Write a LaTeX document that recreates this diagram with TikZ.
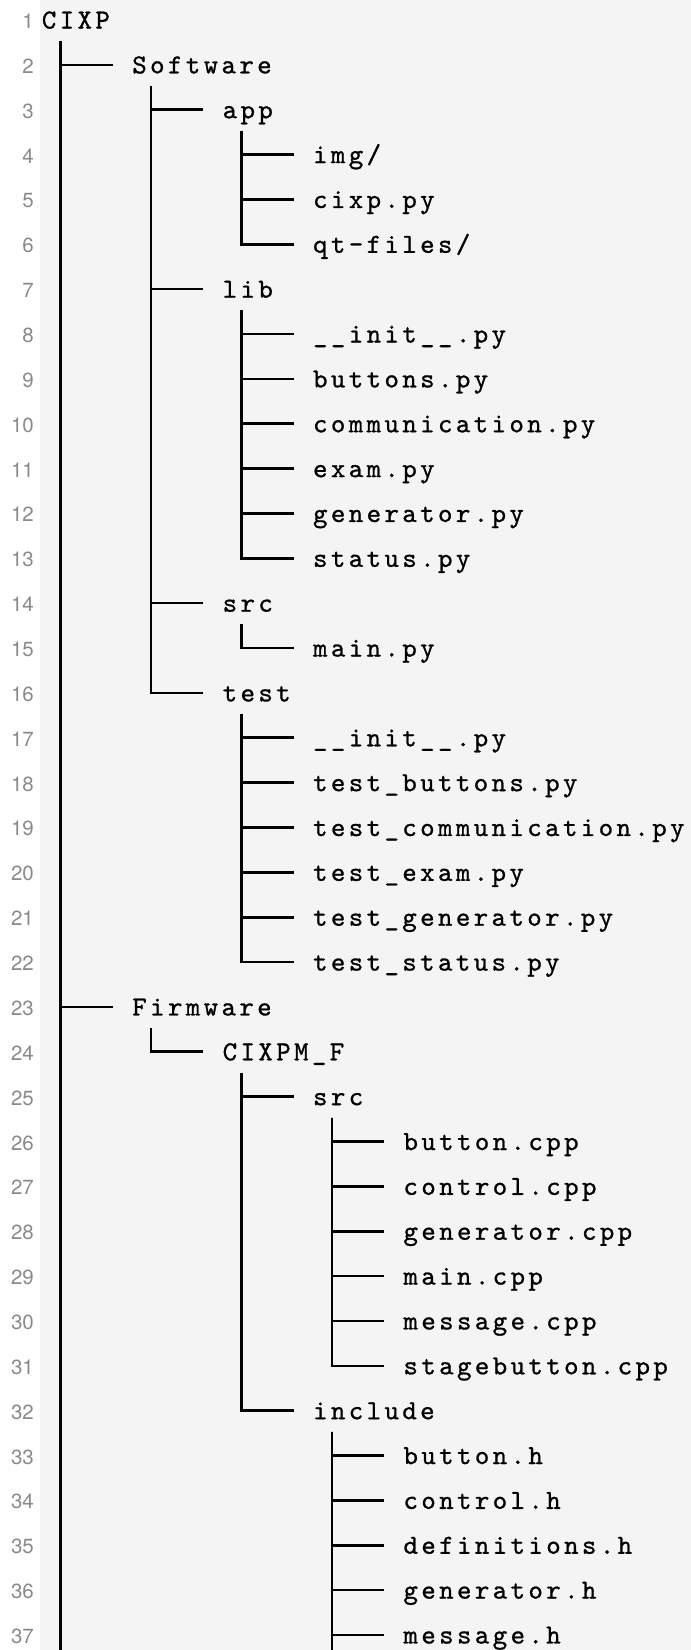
\documentclass[tikz,border=0pt]{standalone}
\usepackage{fontspec}
\newfontfamily\numfont{TeX Gyre Heros}
\newfontfamily\treefont{lmmono10-regular.otf}[FakeBold=0.9]
\definecolor{bggray}{HTML}{F4F4F4}
\definecolor{numgray}{HTML}{8A8A8A}
\makeatletter
\newcommand\mono[1]{\mono@i#1\relax}
\def\mono@i#1{\ifx\relax#1\else\makebox[17.85pt][c]{#1}\expandafter\mono@i\fi}
\makeatother
\newcommand\entry[4]{\node[txt] (#3) at ({40+90.4*#2},{20+(#1-1)*44.86}) {\mono{#4}};}
\newcommand\branch[2]{\draw[tree] ([xshift=20.7pt,yshift=-21pt]#1.west) |- ([xshift=-17.5pt]#2.west);}
\begin{document}
\begin{tikzpicture}[x=1pt,y=-1pt,
  tree/.style={line width=2.6pt,black},
  txt/.style={inner sep=0pt,text height=21pt,text depth=4pt,anchor=west,
    font=\treefont\fontsize{27.5pt}{30pt}\selectfont},
  num/.style={inner sep=0pt,text height=21pt,text depth=4pt,anchor=east,
    text=numgray,font=\numfont\fontsize{20.5pt}{24pt}\selectfont}]
\useasboundingbox (0,0) rectangle (691,1650);
\fill[bggray] (40,0) rectangle (691,1650);
\coordinate (bot) at (0,1650);
\foreach \k in {1,...,37} \node[num] (n\k) at (34,{20+(\k-1)*44.86}) {\k};
\entry{1}{0}{root}{CIXP}
\entry{2}{1}{sw}{Software}
\entry{3}{2}{app}{app}
\entry{4}{3}{img}{img/}
\entry{5}{3}{cixp}{cixp.py}
\entry{6}{3}{qt}{qt-files/}
\entry{7}{2}{lib}{lib}
\entry{8}{3}{libinit}{\_\_init\_\_.py}
\entry{9}{3}{libbtn}{buttons.py}
\entry{10}{3}{libcom}{communication.py}
\entry{11}{3}{libexam}{exam.py}
\entry{12}{3}{libgen}{generator.py}
\entry{13}{3}{libstat}{status.py}
\entry{14}{2}{swsrc}{src}
\entry{15}{3}{mainpy}{main.py}
\entry{16}{2}{test}{test}
\entry{17}{3}{tinit}{\_\_init\_\_.py}
\entry{18}{3}{tbtn}{test\_buttons.py}
\entry{19}{3}{tcom}{test\_communication.py}
\entry{20}{3}{texam}{test\_exam.py}
\entry{21}{3}{tgen}{test\_generator.py}
\entry{22}{3}{tstat}{test\_status.py}
\entry{23}{1}{fw}{Firmware}
\entry{24}{2}{cixpm}{CIXPM\_F}
\entry{25}{3}{fwsrc}{src}
\entry{26}{4}{bcpp}{button.cpp}
\entry{27}{4}{ccpp}{control.cpp}
\entry{28}{4}{gcpp}{generator.cpp}
\entry{29}{4}{mcpp}{main.cpp}
\entry{30}{4}{msgcpp}{message.cpp}
\entry{31}{4}{sbcpp}{stagebutton.cpp}
\entry{32}{3}{inc}{include}
\entry{33}{4}{bh}{button.h}
\entry{34}{4}{ch}{control.h}
\entry{35}{4}{dh}{definitions.h}
\entry{36}{4}{gh}{generator.h}
\entry{37}{4}{mh}{message.h}
% tree connectors
\branch{root}{sw}\branch{root}{fw}
\branch{sw}{app}\branch{sw}{lib}\branch{sw}{swsrc}\branch{sw}{test}
\branch{app}{img}\branch{app}{cixp}\branch{app}{qt}
\branch{lib}{libinit}\branch{lib}{libbtn}\branch{lib}{libcom}\branch{lib}{libexam}\branch{lib}{libgen}\branch{lib}{libstat}
\branch{swsrc}{mainpy}
\branch{test}{tinit}\branch{test}{tbtn}\branch{test}{tcom}\branch{test}{texam}\branch{test}{tgen}\branch{test}{tstat}
\branch{fw}{cixpm}
\branch{cixpm}{fwsrc}\branch{cixpm}{inc}
\branch{fwsrc}{bcpp}\branch{fwsrc}{ccpp}\branch{fwsrc}{gcpp}\branch{fwsrc}{mcpp}\branch{fwsrc}{msgcpp}\branch{fwsrc}{sbcpp}
\branch{inc}{bh}\branch{inc}{ch}\branch{inc}{dh}\branch{inc}{gh}\branch{inc}{mh}
\coordinate (rootv) at ([xshift=20.7pt,yshift=-21pt]root.west);
\coordinate (incv) at ([xshift=20.7pt,yshift=-21pt]inc.west);
\draw[tree] (rootv) -- (rootv |- bot);
\draw[tree] (incv) -- (incv |- bot);
\end{tikzpicture}
\end{document}
